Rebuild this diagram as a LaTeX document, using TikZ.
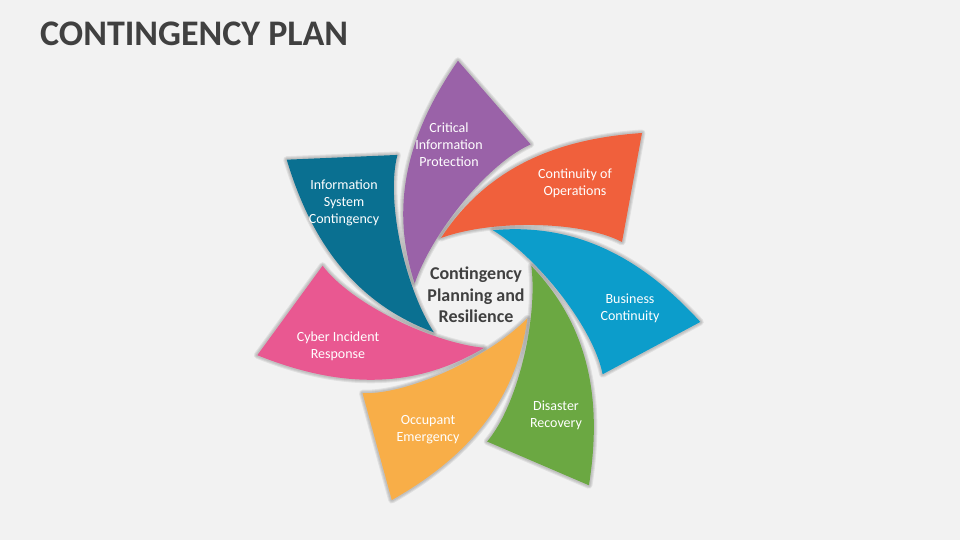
\documentclass[tikz,border=0pt]{standalone}
\usepackage{fontspec}
\setmainfont{Carlito}
\definecolor{bgGray}{HTML}{F2F2F2}
\definecolor{txtGray}{HTML}{404040}
\definecolor{petOrange}{HTML}{F0603C}
\definecolor{petPurple}{HTML}{9A62A8}
\definecolor{petTeal}{HTML}{0A7091}
\definecolor{petPink}{HTML}{E95891}
\definecolor{petYellow}{HTML}{F8AE48}
\definecolor{petGreen}{HTML}{6BA842}
\definecolor{petBlue}{HTML}{0C9DCB}
\newcommand{\petalpath}{(-34,50) .. controls (17,128) and (94,150) .. (167,155)
      -- (147,46) .. controls (105,68) and (15,68) .. cycle}

\begin{document}
\begin{tikzpicture}[
    x=1pt, y=1pt,
    halo/.style={draw=black, line join=round, draw opacity=0.07, line width=#1},
    lbl/.style={text=white, align=center, inner sep=0, font=\fontsize{14}{17}\selectfont},
    hubtext/.style={text=txtGray, align=center, inner sep=0, font=\fontsize{18}{21.5}\selectfont\bfseries}]
\fill[bgGray] (0,0) rectangle (960,540);
\useasboundingbox (0,0) rectangle (960,540);
\node[anchor=base west, inner sep=0, text=txtGray, font=\fontsize{36}{40}\selectfont\bfseries] (title) at (40,494) {CONTINGENCY PLAN};

% one petal, turned seven times round the hub
\foreach \ang/\col in {0/petOrange, 51.43/petPurple, 102.86/petTeal, 154.29/petPink,
                       205.71/petYellow, 257.14/petGreen, 308.57/petBlue}{
  \begin{scope}[shift={(475,252)}, rotate=\ang]
    \foreach \w in {7,5,3}
      \path[halo=\w pt] \petalpath;
    \fill[\col] \petalpath;
  \end{scope}
}

\node[hubtext] (hub) at (476,245) {Contingency\\Planning and\\Resilience};

\node[lbl] (cip) at (449,395) {Critical\\Information\\Protection};
\node[lbl] (coo) at (575,357) {Continuity of\\Operations};
\node[lbl] (bc)  at (630,232) {Business\\Continuity};
\node[lbl] (dr)  at (556,125) {Disaster\\Recovery};
\node[lbl] (oe)  at (428,110) {Occupant\\Emergency};
\node[lbl] (cir) at (338,194) {Cyber Incident\\Response};
\node[lbl] (isc) at (344,337) {Information\\System\\Contingency};

\end{tikzpicture}
\end{document}
